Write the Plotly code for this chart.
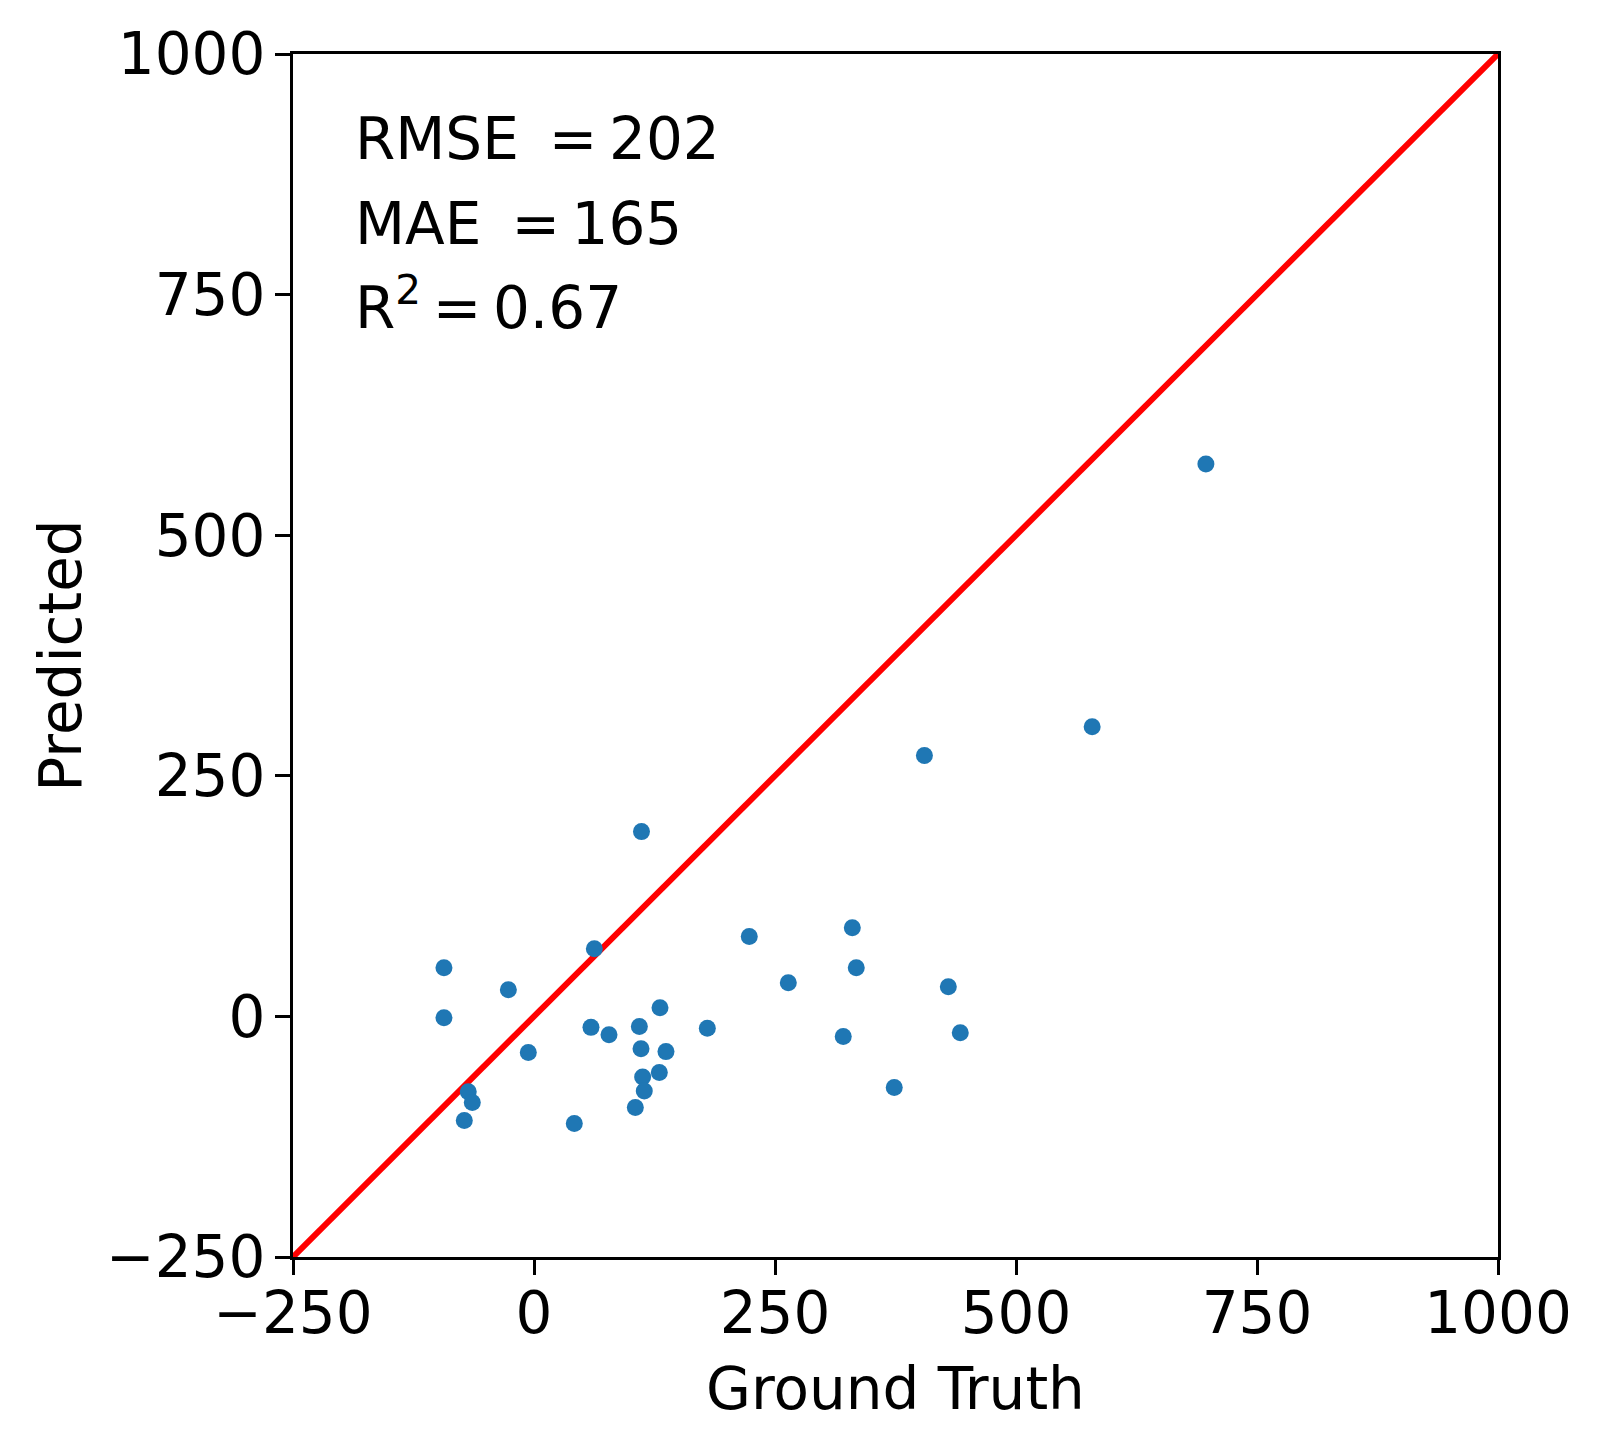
import plotly.graph_objects as go

ground_truth = [697, 579, 405, 111.5, 223.3, 330.2, 334.3, 62.6, -93.4, -93.4,
                -26.6, 263.8, 429.8, 442.2, 320.8, 373.7, 179.8, 130.7, 136.9, 130,
                112.7, 114.4, 105.1, 111, 109.3, 77.8, 59.1, -5.9, 41.8, -68.2,
                -64, -72.3]
predicted = [574, 301, 271, 192, 83, 92, 50.5, 70.2, 50.5, -1.3,
             27.7, 35, 30.8, -16.9, -21, -73.9, -12.4, 9, -36.6, -58.4,
             -62.9, -77.4, -94.7, -33.5, -10.6, -19, -11.4, -37.6, -111.3, -78.4,
             -89.5, -108.2]
identity_line = [-250, 1000]
tick_values = [-250, 0, 250, 500, 750, 1000]
metric_lines = ["RMSE\u00a0\u2009=\u2009202", "MAE\u00a0\u2009=\u2009165",
                "R<sup>2</sup>\u2009=\u20090.67"]

FONT = "DejaVu Sans"
FS = 58

fig = go.Figure()
fig.add_trace(go.Scatter(x=identity_line, y=identity_line, mode="lines",
                         line=dict(color="#ff0000", width=6), showlegend=False,
                         hoverinfo="skip"))
fig.add_trace(go.Scatter(x=ground_truth, y=predicted, mode="markers",
                         marker=dict(color="#1f77b4", size=17, line=dict(width=0)),
                         showlegend=False))

axis_common = dict(range=[-250, 1000], tickvals=tick_values, ticks="outside",
                   ticklen=15, tickwidth=3, tickcolor="black", showgrid=False,
                   zeroline=False, showline=True, linecolor="black", linewidth=3,
                   mirror=True, tickfont=dict(family=FONT, size=FS, color="black"))

fig.update_layout(
    width=1594, height=1439,
    margin=dict(l=285, r=104, t=44, b=190),
    paper_bgcolor="white", plot_bgcolor="white",
    font=dict(family=FONT, size=FS, color="black"),
    xaxis=dict(**axis_common, ticklabelstandoff=-12,
               title=dict(text="Ground Truth", standoff=23,
                          font=dict(family=FONT, size=FS))),
    yaxis=dict(**axis_common, ticklabelstandoff=-2,
               title=dict(text="Predicted", standoff=6,
                          font=dict(family=FONT, size=FS))),
)

ys = [0.929, 0.8585, 0.792]
for txt, yy in zip(metric_lines, ys):
    fig.add_annotation(text=txt, xref="x domain", yref="y domain", x=0.05, y=yy,
                       xanchor="left", yanchor="middle", showarrow=False,
                       font=dict(family=FONT, size=FS, color="black"))

fig.write_html("out.html")
